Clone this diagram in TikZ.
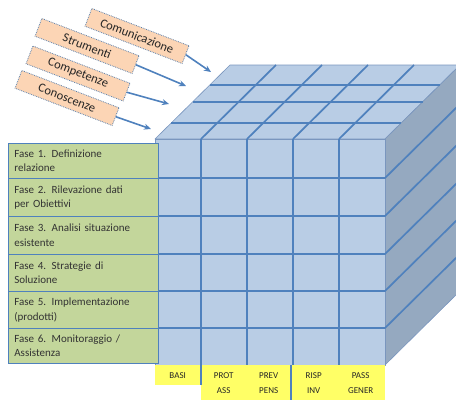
\documentclass[tikz,border=0pt]{standalone}
\usepackage{fontspec}
\setmainfont{Carlito}
\usetikzlibrary{arrows.meta}
\definecolor{gridblue}{HTML}{4F81BD}
\definecolor{facefill}{HTML}{B9CDE5}
\definecolor{sidefill}{HTML}{95A9C0}
\definecolor{edgecol}{HTML}{7A96BE}
\definecolor{greenfill}{HTML}{C3D69B}
\definecolor{peach}{HTML}{FCD5B5}
\definecolor{yellowlab}{HTML}{FFFF66}
\tikzset{
  gridline/.style={draw=gridblue, line width=1.7pt},
  face/.style={fill=facefill, draw=edgecol, line width=0.6pt, line join=round},
  sideface/.style={fill=sidefill, draw=edgecol, line width=0.6pt, line join=round},
  phase/.style={draw=gridblue, line width=0.7pt, fill=greenfill, anchor=north west,
    minimum width=149pt, text width=138pt, inner xsep=6pt, align=left,
    font=\fontsize{11}{14.5}\selectfont, text=black!80},
  tag/.style={draw=gridblue!70!gray, densely dotted, line width=0.8pt, fill=peach,
    minimum width=104pt, minimum height=19pt, rotate=-21, inner sep=1pt,
    font=\fontsize{12.5}{13}\selectfont, text=black!85},
  collab/.style={fill=yellowlab, anchor=north west, inner sep=0pt, align=center,
    font=\fontsize{9}{15}\selectfont, text=black!85},
  arr/.style={draw=gridblue, line width=1.6pt, -{Stealth[length=7pt,width=6pt]}}
}
\begin{document}
\begin{tikzpicture}[x=1pt,y=-1pt]
\useasboundingbox (0,0) rectangle (456,400);
\clip (0,0) rectangle (456,400);
% faces
\path[face] (155,139) -- (385,139) -- (460,65) -- (230,65) -- cycle;
\path[sideface] (385,139) -- (460,65) -- (460,291) -- (385,365) -- cycle;
\path[face] (155,139) rectangle (385,365);
% top grid
\foreach \x in {201,247,293,339}
  \draw[gridline] (\x,139) -- ++(75,-74);
\foreach \t in {0.216,0.5,0.73}
  \draw[gridline] (155+75*\t,139-74*\t) -- (385+75*\t,139-74*\t);
% front grid
\foreach \x in {201,247,293,339}
  \draw[gridline] (\x,139) -- (\x,365);
\foreach \y in {178,216,254,291,328}
  \draw[gridline] (155,\y) -- (385,\y) -- ++(75,-74);
% bottom column labels
\node[collab, minimum width=45pt, minimum height=20pt] (c1) at (155,365) {BASI};
\node[collab, minimum width=45pt, minimum height=35pt] (c2) at (201,365) {PROT\\ASS};
\node[collab, minimum width=45pt, minimum height=35pt] (c3) at (246,365) {PREV\\PENS};
\node[collab, minimum width=45pt, minimum height=35pt] (c4) at (291,365) {RISP\\INV};
\node[collab, minimum width=49pt, minimum height=35pt] (c5) at (336,365) {PASS\\GENER};
\draw[gridline] (c2.north west) -- (c2.south west|-c1.south);
\draw[gridline] (c4.north west) -- (c4.south west);
% phase labels
\node[phase, minimum height=35pt] (f1) at (8,143) {Fase 1. Definizione\\relazione};
\node[phase, minimum height=38pt] (f2) at (8,178) {Fase 2. Rilevazione dati\\per Obiettivi};
\node[phase, minimum height=38pt] (f3) at (8,216) {Fase 3. Analisi situazione\\esistente};
\node[phase, minimum height=37pt] (f4) at (8,254) {Fase 4. Strategie di\\Soluzione};
\node[phase, minimum height=37pt] (f5) at (8,291) {Fase 5. Implementazione\\(prodotti)};
\node[phase, minimum height=35pt] (f6) at (8,328) {Fase 6. Monitoraggio /\\Assistenza};
% tags
\node[tag] (t1) at (137,36) {Comunicazione};
\node[tag] (t2) at (87,46) {Strumenti};
\node[tag] (t3) at (78,73.5) {Competenze};
\node[tag] (t4) at (67,98) {Conoscenze};
\coordinate (e1) at (211,72);
\coordinate (e2) at (186,86);
\coordinate (e3) at (169,104);
\coordinate (e4) at (151,129);
\draw[arr] (t1.east) -- (e1);
\draw[arr] (t2.east) -- (e2);
\draw[arr] (t3.east) -- (e3);
\draw[arr] (t4.east) -- (e4);
\end{tikzpicture}
\end{document}
